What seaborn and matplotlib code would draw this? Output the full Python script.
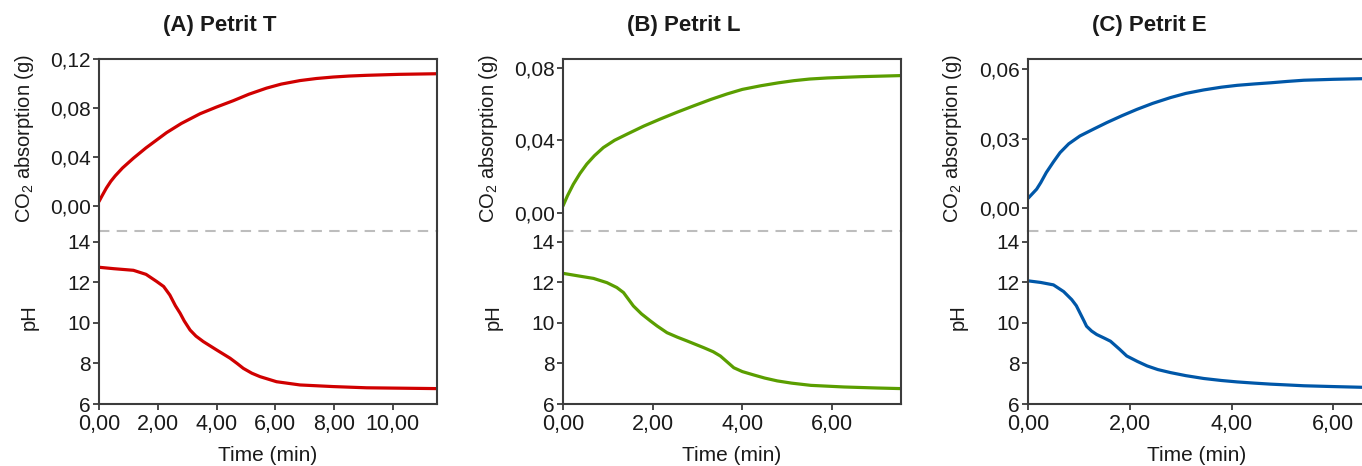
import numpy as np
import pandas as pd
import matplotlib
matplotlib.use("Agg")
import matplotlib.pyplot as plt
import seaborn as sns
from matplotlib.ticker import FuncFormatter

# ---- Petrit T ----
t_T_co2 = [0.0, 0.1, 0.25, 0.4, 0.55, 0.8, 1.17, 1.6, 2.3, 2.8, 3.44, 4.0, 4.57, 5.1, 5.7, 6.2, 6.84, 7.4, 7.97, 8.5, 9.1, 10.2, 11.5]
co2_T = [0.0035, 0.008, 0.0145, 0.020, 0.0245, 0.031, 0.039, 0.0475, 0.0600, 0.0675, 0.0755, 0.081, 0.0862, 0.0915, 0.0965, 0.0998, 0.1027, 0.1044, 0.1056, 0.1064, 0.107, 0.1078, 0.1083]
t_T_ph = [0.0, 0.5, 1.17, 1.6, 1.96, 2.2, 2.41, 2.6, 2.76, 2.9, 3.1, 3.3, 3.55, 4.0, 4.46, 4.7, 4.91, 5.2, 5.48, 6.04, 6.84, 7.97, 9.1, 11.5]
ph_T = [12.75, 12.68, 12.6, 12.4, 12.05, 11.8, 11.38, 10.85, 10.48, 10.1, 9.65, 9.35, 9.08, 8.67, 8.26, 8.0, 7.76, 7.52, 7.35, 7.1, 6.94, 6.86, 6.8, 6.76]

# ---- Petrit L ----
t_L_co2 = [0.0, 0.1, 0.23, 0.38, 0.53, 0.7, 0.9, 1.15, 1.43, 1.8, 2.17, 2.55, 2.92, 3.3, 3.66, 4.0, 4.41, 4.8, 5.15, 5.5, 5.9, 6.64, 7.54]
co2_L = [0.0039, 0.0095, 0.0158, 0.0218, 0.0269, 0.0315, 0.036, 0.040, 0.0434, 0.0478, 0.0517, 0.0555, 0.059, 0.0625, 0.0655, 0.068, 0.070, 0.0716, 0.0728, 0.0737, 0.0743, 0.075, 0.0756]
t_L_ph = [0.0, 0.35, 0.68, 0.98, 1.2, 1.35, 1.45, 1.57, 1.75, 1.95, 2.1, 2.32, 2.55, 2.77, 3.14, 3.35, 3.51, 3.65, 3.81, 4.0, 4.26, 4.5, 4.78, 5.1, 5.53, 6.27, 7.0, 7.54]
ph_L = [12.45, 12.32, 12.2, 11.99, 11.75, 11.5, 11.2, 10.84, 10.45, 10.1, 9.85, 9.52, 9.3, 9.11, 8.78, 8.58, 8.37, 8.1, 7.79, 7.6, 7.43, 7.28, 7.14, 7.03, 6.92, 6.84, 6.79, 6.76]

# ---- Petrit E ----
t_E_co2 = [0.0, 0.17, 0.25, 0.36, 0.5, 0.63, 0.8, 1.02, 1.3, 1.55, 1.85, 2.14, 2.45, 2.8, 3.1, 3.45, 3.8, 4.11, 4.45, 4.77, 5.1, 5.42, 6.0, 6.64]
co2_E = [0.0042, 0.0082, 0.011, 0.0154, 0.020, 0.024, 0.0278, 0.0312, 0.0343, 0.037, 0.040, 0.0427, 0.0453, 0.0478, 0.0496, 0.0511, 0.0523, 0.0531, 0.0537, 0.0542, 0.0548, 0.0553, 0.0557, 0.056]
t_E_ph = [0.0, 0.25, 0.5, 0.7, 0.86, 0.95, 1.02, 1.1, 1.15, 1.25, 1.35, 1.5, 1.62, 1.8, 1.94, 2.15, 2.34, 2.55, 2.8, 3.1, 3.45, 3.8, 4.11, 4.45, 4.77, 5.1, 5.42, 6.0, 6.64]
ph_E = [12.08, 12.0, 11.88, 11.55, 11.15, 10.85, 10.5, 10.1, 9.84, 9.6, 9.43, 9.25, 9.1, 8.7, 8.37, 8.1, 7.88, 7.7, 7.55, 7.4, 7.26, 7.16, 7.09, 7.03, 6.98, 6.94, 6.9, 6.86, 6.82]

titles = ["(A) Petrit T", "(B) Petrit L", "(C) Petrit E"]
colors = ["#D00000", "#5A9E00", "#0057A8"]
x_ticks = [[0, 2, 4, 6, 8, 10], [0, 2, 4, 6], [0, 2, 4, 6]]
co2_ticks = [[0.0, 0.04, 0.08, 0.12], [0.0, 0.04, 0.08], [0.0, 0.03, 0.06]]
ph_ticks = [6, 8, 10, 12, 14]

co2_lims = [(-0.0207, 0.1208), (-0.0099, 0.085), (-0.0099, 0.0647)]
ph_lim = (6, 14.54)
x_lims = [(0, 11.5), (0, 7.54), (0, 6.64)]

panels = [
    (t_T_co2, co2_T, t_T_ph, ph_T),
    (t_L_co2, co2_L, t_L_ph, ph_L),
    (t_E_co2, co2_E, t_E_ph, ph_E),
]

sns.set_style("ticks")
plt.rcParams["font.family"] = ["Liberation Sans", "DejaVu Sans"]
plt.rcParams["mathtext.fontset"] = "custom"
plt.rcParams["mathtext.rm"] = "Liberation Sans"
plt.rcParams["mathtext.it"] = "Liberation Sans:italic"

W, H = 1362, 466
fig = plt.figure(figsize=(W / 100, H / 100), dpi=100)

lefts = [99, 563, 1028]
width = 338
top, mid, bottom = 58.5, 231.0, 404.0
spine_col = "#3c3c3c"
text_col = "#1a1a1a"


def fx(px):
    return px / W


def fy(py):
    return 1 - py / H


comma2 = FuncFormatter(lambda v, p: f"{v:.2f}".replace(".", ","))
int_fmt = FuncFormatter(lambda v, p: f"{v:.0f}")

for i, (tc, yc, tp, yp) in enumerate(panels):
    left = lefts[i]
    ax_top = fig.add_axes([fx(left), fy(mid), fx(width), (mid - top) / H])
    ax_bot = fig.add_axes([fx(left), fy(bottom), fx(width), (bottom - mid) / H])

    df_c = pd.DataFrame({"t": tc, "v": yc})
    df_p = pd.DataFrame({"t": tp, "v": yp})
    sns.lineplot(data=df_c, x="t", y="v", ax=ax_top, color=colors[i], lw=2.3,
                 solid_joinstyle="round", solid_capstyle="round")
    sns.lineplot(data=df_p, x="t", y="v", ax=ax_bot, color=colors[i], lw=2.3,
                 solid_joinstyle="round", solid_capstyle="round")

    for ax in (ax_top, ax_bot):
        ax.set_xlim(*x_lims[i])
        ax.set_xlabel("")
        ax.set_ylabel("")
        for s in ax.spines.values():
            s.set_color(spine_col)
            s.set_linewidth(1.5)
        ax.tick_params(axis="both", direction="out", length=4, width=1.3,
                       color=spine_col, labelsize=15, labelcolor=text_col, pad=2)

    ax_top.set_ylim(*co2_lims[i])
    ax_top.set_yticks(co2_ticks[i])
    ax_top.yaxis.set_major_formatter(comma2)
    ax_top.spines["bottom"].set_visible(False)
    ax_top.tick_params(axis="x", bottom=False, labelbottom=False)

    ax_bot.set_ylim(*ph_lim)
    ax_bot.set_yticks(ph_ticks)
    ax_bot.yaxis.set_major_formatter(int_fmt)
    ax_bot.set_xticks(x_ticks[i])
    ax_bot.xaxis.set_major_formatter(comma2)
    ax_bot.tick_params(axis="x", pad=3, labelsize=15.5)
    ax_bot.spines["top"].set_visible(False)
    ax_bot.axhline(ph_lim[1], color="#bdbdbd", lw=1.5, ls=(0, (5, 3.5)), clip_on=False)

    fig.text(fx(left + 121), fy(25), titles[i], ha="center", va="center",
             fontsize=16, fontweight="bold", color=text_col)
    fig.text(fx(left - 75), fy((top + mid) / 2 - 6), "CO$_2$ absorption (g)",
             rotation=90, ha="center", va="center", fontsize=14.5, color=text_col)
    fig.text(fx(left - 70), fy((mid + bottom) / 2), "pH",
             rotation=90, ha="center", va="center", fontsize=14.5, color=text_col)
    fig.text(fx(left + width / 2), fy(461), "Time (min)", ha="center",
             va="baseline", fontsize=15, color=text_col)

fig.savefig("out.png", dpi=100)
